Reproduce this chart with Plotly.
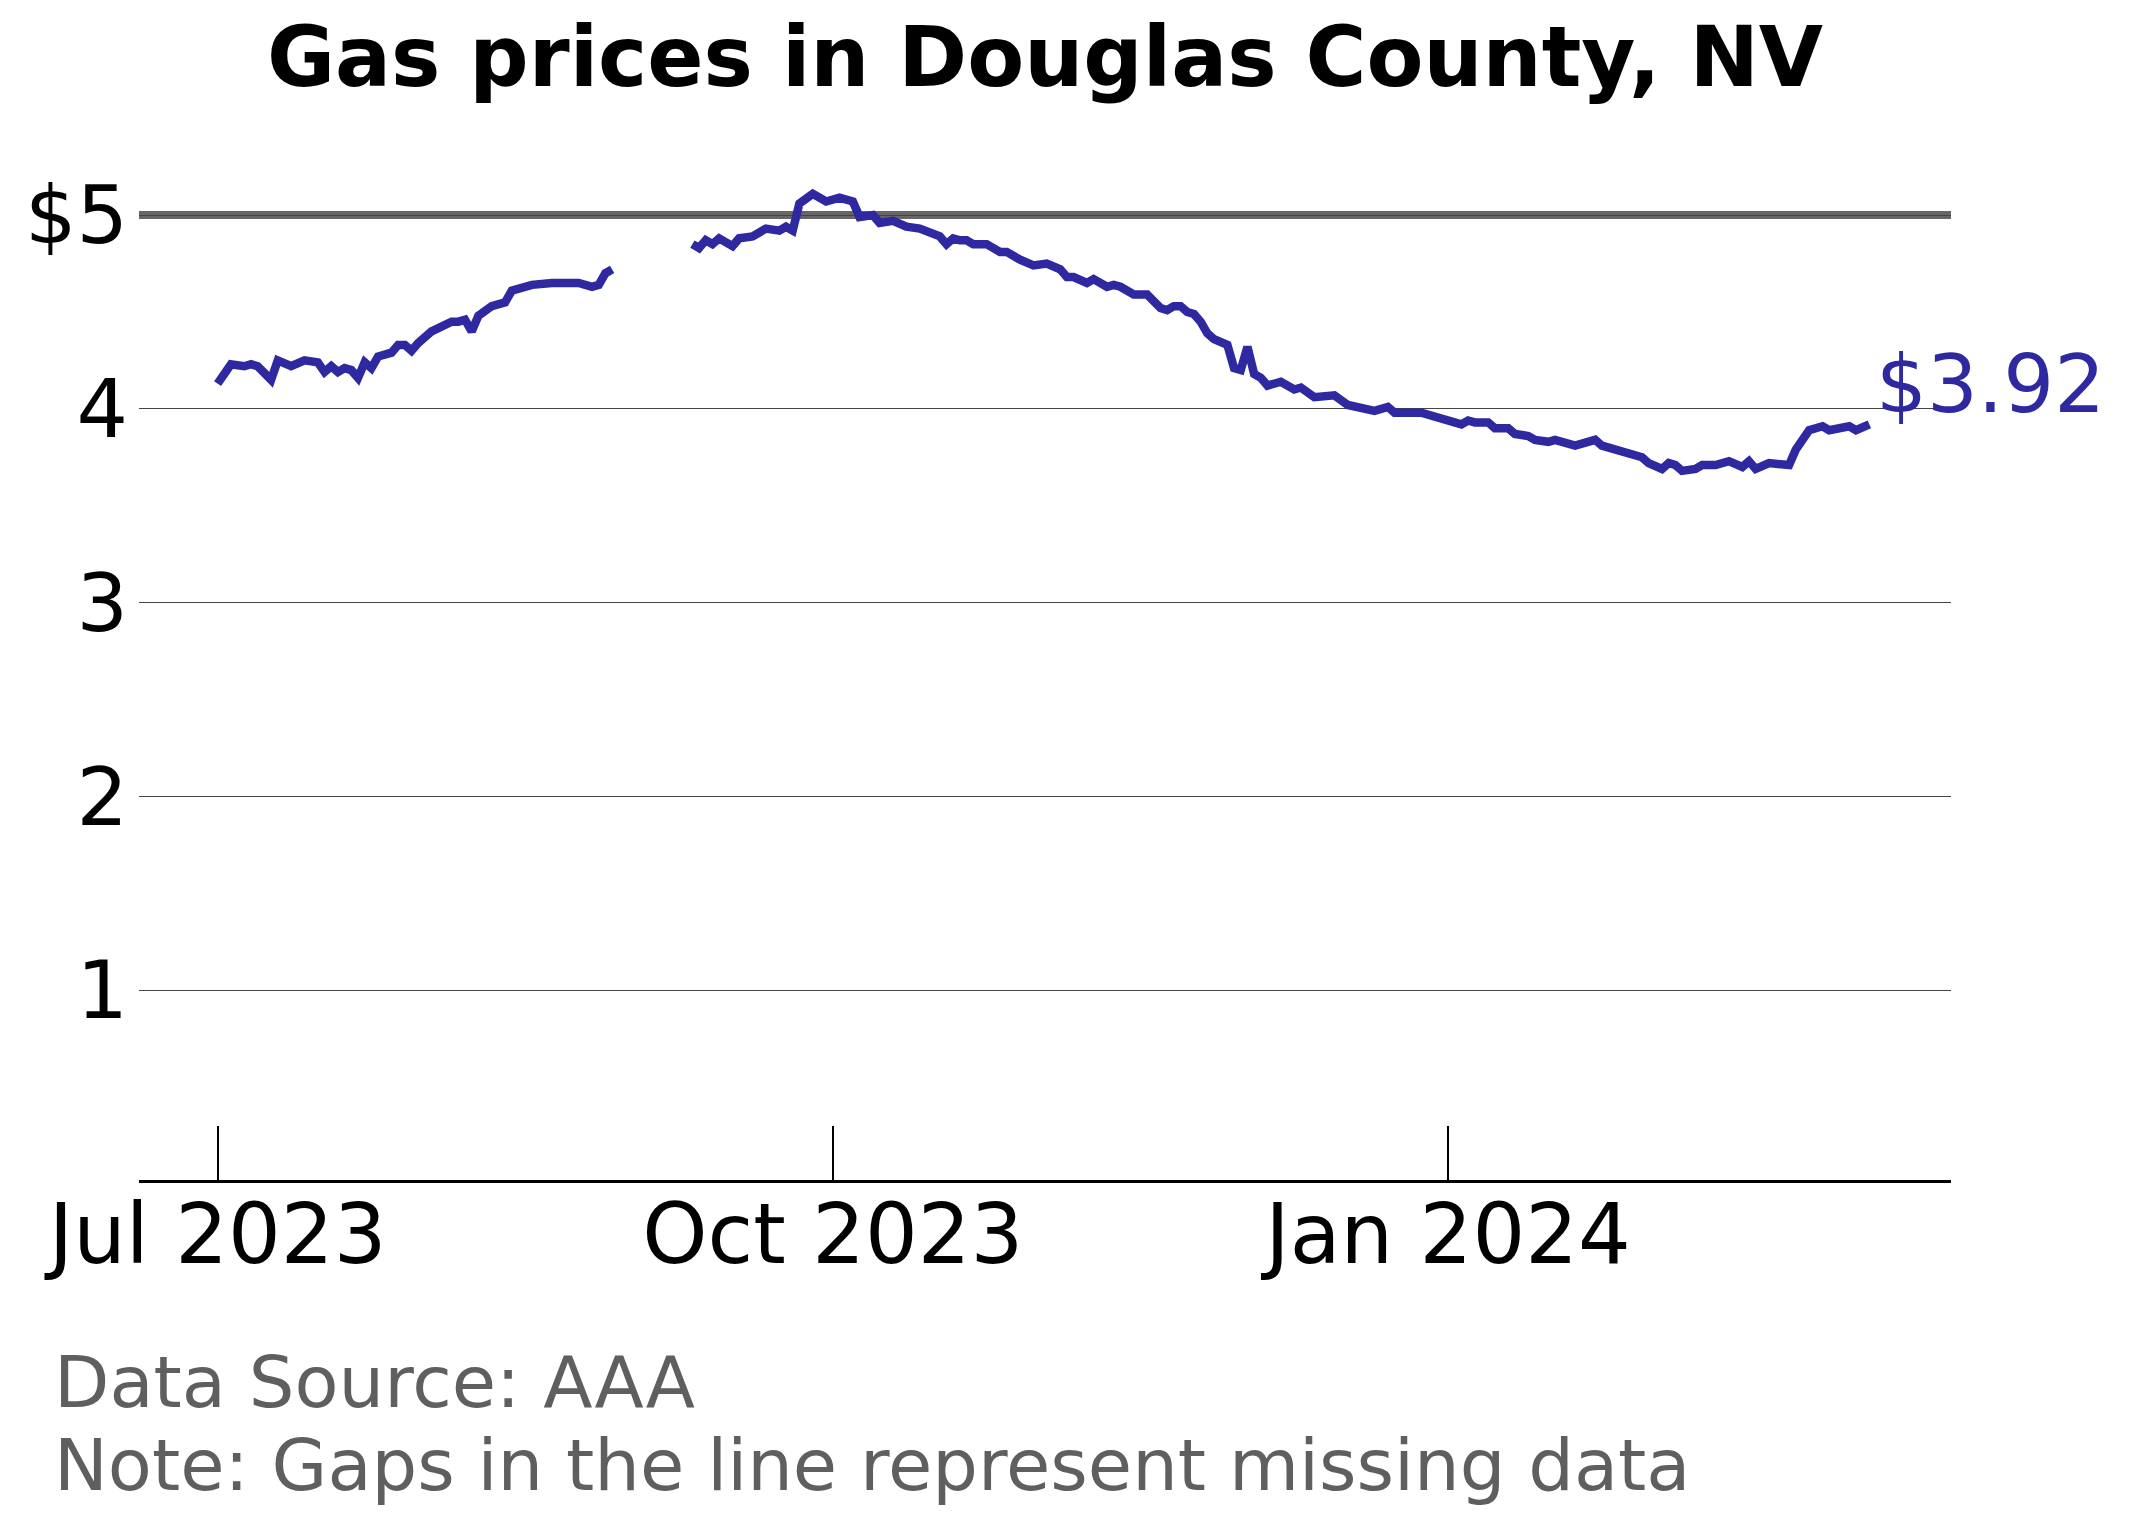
import pandas as pd
import plotly.graph_objects as go

# ---- data ----
start_date = "2023-07-01"
# segment 1: days after start_date, average price ($/gal)
seg1_days = [0, 2, 4, 5, 6, 8, 9, 11, 13, 15, 16, 17, 18, 19, 20, 21, 22, 23, 24, 26,
             27, 28, 29, 30, 32, 34, 35, 36, 37, 38, 39, 41, 43, 44, 45, 47, 50, 52, 54, 56,
             57, 58, 59]
seg1_vals = [4.13, 4.23, 4.22, 4.23, 4.22, 4.15, 4.25, 4.22, 4.25, 4.24, 4.19, 4.22, 4.19, 4.21,
             4.20, 4.16, 4.24, 4.21, 4.27, 4.29, 4.33, 4.33, 4.30, 4.34, 4.40, 4.44, 4.45, 4.45,
             4.46, 4.40, 4.48, 4.53, 4.55, 4.61, 4.62, 4.64, 4.65, 4.65, 4.65, 4.63, 4.64, 4.70,
             4.72]
# segment 2 (after missing data)
seg2_days = [71, 72, 73, 74, 75, 77, 78, 80, 82, 84, 85, 86, 87, 89, 91, 93, 95, 96, 98, 99,
             101, 103, 105, 106, 108, 109, 110, 111, 112, 113, 115, 117, 118, 120, 122, 124, 125,
             126, 127, 128, 130, 131, 133, 134, 135, 137, 139, 140, 141, 142, 143, 144, 145, 146,
             147, 148, 149, 151, 152, 153, 154, 155, 156, 157, 159, 161, 162, 164, 165, 167, 169,
             171, 172, 173, 175, 176, 180, 182, 184, 185, 186, 187, 188, 190, 191, 193, 194, 196,
             197, 199, 200, 203, 204, 206, 207, 208, 210, 211, 213, 214, 216, 217, 218, 219, 221,
             222, 224, 226, 227, 228, 229, 230, 232, 233, 235, 236, 237, 238, 240, 241, 244, 245,
             247]
seg2_vals = [4.85, 4.83, 4.87, 4.85, 4.88, 4.84, 4.88, 4.89, 4.93, 4.92, 4.94, 4.92, 5.06, 5.11,
             5.07, 5.09, 5.07, 4.99, 5.00, 4.96, 4.97, 4.94, 4.93, 4.92, 4.89, 4.85, 4.88, 4.87,
             4.87, 4.85, 4.85, 4.81, 4.81, 4.77, 4.74, 4.75, 4.73, 4.72, 4.68, 4.68, 4.65, 4.67,
             4.63, 4.64, 4.63, 4.59, 4.59, 4.56, 4.52, 4.51, 4.53, 4.53, 4.50, 4.49, 4.45, 4.39,
             4.36, 4.33, 4.21, 4.20, 4.32, 4.18, 4.16, 4.12, 4.14, 4.10, 4.11, 4.06, 4.06, 4.07,
             4.02, 4.00, 3.99, 3.99, 4.01, 3.98, 3.98, 3.96, 3.95, 3.93, 3.92, 3.94, 3.93, 3.93,
             3.90, 3.90, 3.87, 3.86, 3.84, 3.83, 3.84, 3.81, 3.82, 3.84, 3.81, 3.80, 3.77, 3.76,
             3.75, 3.72, 3.69, 3.72, 3.71, 3.68, 3.69, 3.71, 3.71, 3.73, 3.72, 3.70, 3.73, 3.69,
             3.72, 3.72, 3.71, 3.79, 3.84, 3.89, 3.91, 3.89, 3.91, 3.89, 3.92]

x_tick_vals = ["2023-07-01", "2023-10-01", "2024-01-01"]
x_tick_text = ["Jul 2023", "Oct 2023", "Jan 2024"]
y_tick_vals = [1, 2, 3, 4, 5]
y_tick_text = ["1", "2", "3", "4", "$5"]
reference_price = 5
title_text = "Gas prices in Douglas County, NV"
footer_lines = ["Data Source: AAA", "Note: Gaps in the line represent missing data"]

# ---- build ----
t0 = pd.Timestamp(start_date)
d1 = [t0 + pd.Timedelta(days=d) for d in seg1_days]
d2 = [t0 + pd.Timedelta(days=d) for d in seg2_days]
dates = d1 + [None] + d2
vals = seg1_vals + [None] + seg2_vals

LINE = "#2e29a0"
FONT = "DejaVu Sans"

fig = go.Figure()
fig.add_trace(go.Scatter(x=dates, y=vals, mode="lines", connectgaps=False,
                         line=dict(color=LINE, width=8.5), hoverinfo="skip"))

fig.add_shape(type="line", xref="paper", yref="y", x0=0, x1=1,
              y0=reference_price, y1=reference_price,
              line=dict(color="#666666", width=8), layer="below")

fig.add_annotation(x=d2[-1], y=seg2_vals[-1], xref="x", yref="y",
                   text=f"${seg2_vals[-1]:.2f}", showarrow=False,
                   xanchor="left", yanchor="middle", xshift=5, yshift=40,
                   font=dict(family=FONT, size=80, color=LINE))

fig.add_annotation(x=-0.048, y=-0.197, xref="paper", yref="paper",
                   text=footer_lines[0], showarrow=False, xanchor="left", yanchor="middle",
                   font=dict(family=FONT, size=72, color="#5f5f5f"))
fig.add_annotation(x=-0.048, y=-0.278, xref="paper", yref="paper",
                   text=footer_lines[1], showarrow=False, xanchor="left", yanchor="middle",
                   font=dict(family=FONT, size=72, color="#5f5f5f"))

fig.update_layout(
    width=2132, height=1524,
    margin=dict(l=131, r=189, t=148, b=352),
    paper_bgcolor="white", plot_bgcolor="white",
    showlegend=False,
    title=dict(text=title_text, x=0.5, xref="paper", xanchor="center",
               y=1 - 49 / 1524, yref="container", yanchor="middle",
               font=dict(family=FONT, size=83, color="black", weight="bold")),
    font=dict(family=FONT, color="black"),
)

fig.update_xaxes(range=["2023-06-19 06:00", "2024-03-16 05:00"],
                 tickvals=x_tick_vals, ticktext=x_tick_text,
                 ticks="inside", ticklen=54, tickwidth=1.6, tickcolor="black",
                 showline=True, linecolor="black", linewidth=2.5,
                 showgrid=False, zeroline=False,
                 tickfont=dict(family=FONT, size=83, color="black"),
                 ticklabelstandoff=-19)

fig.update_yaxes(range=[0.02, 5.305],
                 tickvals=y_tick_vals, ticktext=y_tick_text,
                 showgrid=True, gridcolor="#444444", gridwidth=1.4,
                 showline=False, zeroline=False, ticks="",
                 tickfont=dict(family=FONT, size=81, color="black"),
                 ticklabelstandoff=10)

fig.write_html("out.html")
